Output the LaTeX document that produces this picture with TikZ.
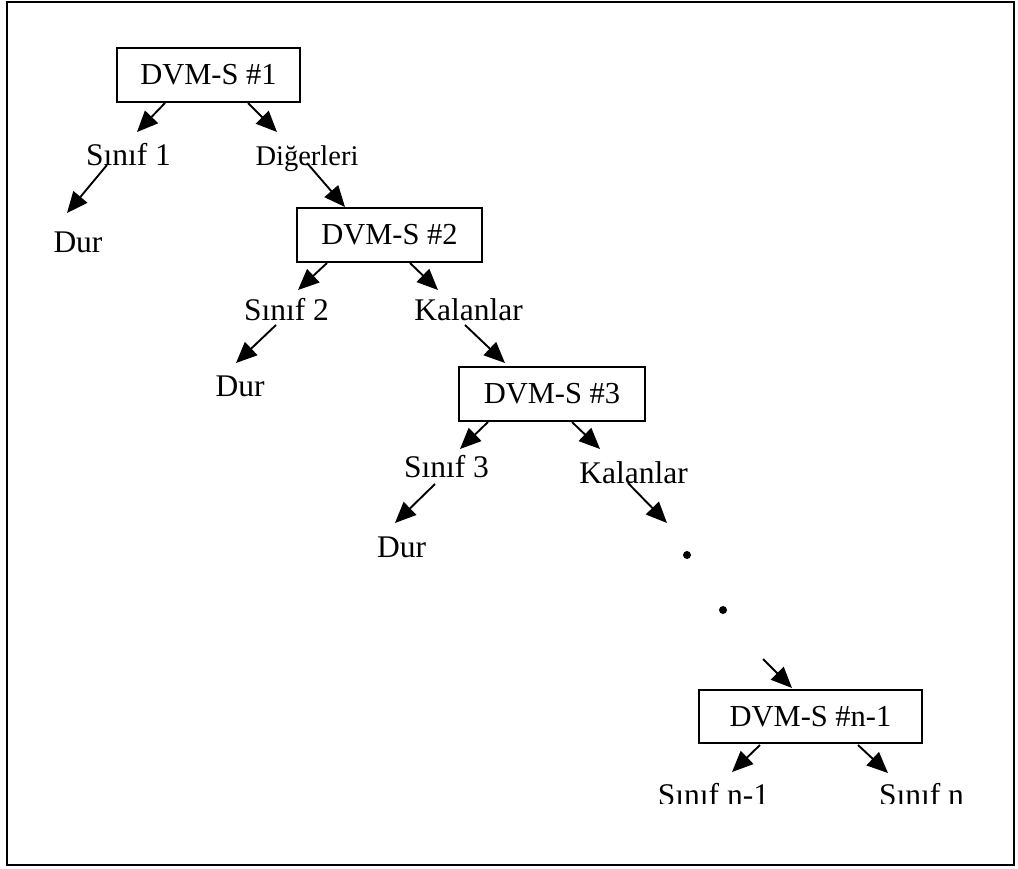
\documentclass[tikz,border=0pt]{standalone}
\usepackage{fontspec}
\setmainfont{Liberation Serif}
\usetikzlibrary{arrows.meta,calc}
\begin{document}
\begin{tikzpicture}[x=1pt,y=-1pt,
  svmbox/.style={draw,line width=1.8pt,inner sep=0pt,minimum height=54pt,
    font=\fontsize{30.5}{36}\selectfont},
  lbl/.style={inner sep=0pt,anchor=base,font=\fontsize{31.5}{37}\selectfont},
  lblsmall/.style={inner sep=0pt,anchor=base,font=\fontsize{28.5}{33}\selectfont},
  dotn/.style={circle,fill,inner sep=0pt,minimum size=8pt},
  arr/.style={line width=1.9pt,-{Triangle[length=21pt,width=18pt]}}]
\useasboundingbox (0,0) rectangle (1018,868);
% outer frame
\draw[line width=2.2pt] (7,2) rectangle (1014,865);

% SVM stages
\node[svmbox,minimum width=183pt] (b1) at (208.5,75)  {DVM-S \#1};
\node[svmbox,minimum width=185pt] (b2) at (389.5,235) {DVM-S \#2};
\node[svmbox,minimum width=186pt] (b3) at (552,394)   {DVM-S \#3};
\node[svmbox,minimum width=223pt,minimum height=53pt] (b4) at (810.5,716.5) {DVM-S \#n-1};

% outcomes
\node[lbl] (s1) at (128.5,165) {Sınıf 1};
\node[lblsmall] (dg) at (307,165) {Diğerleri};
\node[lbl] (d1) at (78,252) {Dur};
\node[lbl] (s2) at (286.5,320) {Sınıf 2};
\node[lbl] (k2) at (468.5,320) {Kalanlar};
\node[lbl] (d2) at (240,396) {Dur};
\node[lbl] (s3) at (446.5,477) {Sınıf 3};
\node[lbl] (k3) at (633.5,483) {Kalanlar};
\node[lbl] (d3) at (401.5,557) {Dur};
\begin{scope}
  \clip (600,770) rectangle (1000,803);
  \node[lbl] (sn1) at (713.5,805) {Sınıf n-1};
  \node[lbl] (sn)  at (921.5,805) {Sınıf n};
\end{scope}

% continuation dots
\node[dotn] (p1) at (687,555) {};
\node[dotn] (p2) at (723,610) {};

% connectors
\draw[arr] ($(b1)+(-43.5,28)$) -- ($(s1.base)+(8.5,-33)$);
\draw[arr] ($(b1)+(39.5,28)$) -- ($(dg.base)+(-30,-33)$);
\draw[arr] ($(s1.base)+(-21.5,0)$) -- ($(d1.base)+(-11,-39)$);
\draw[arr] ($(dg.base)+(0,-2)$) -- ($(b2)+(-44.5,-28)$);
\draw[arr] ($(b2)+(-62.5,28)$) -- ($(s2.base)+(11.5,-30)$);
\draw[arr] ($(b2)+(20.5,28)$) -- ($(k2.base)+(-30.5,-30)$);
\draw[arr] ($(s2.base)+(-10.5,5)$) -- ($(d2.base)+(-4,-33)$);
\draw[arr] ($(k2.base)+(-3.5,5)$) -- ($(b3)+(-47,-31)$);
\draw[arr] ($(b3)+(-64,28)$) -- ($(s3.base)+(13.5,-28)$);
\draw[arr] ($(b3)+(20,28)$) -- ($(k3.base)+(-33.5,-34)$);
\draw[arr] ($(s3.base)+(-11.5,7)$) -- ($(d3.base)+(-6.5,-34)$);
\draw[arr] ($(k3.base)+(-5.5,0)$) -- ($(p1)+(-20,-32)$);
\draw[arr] ($(p2)+(40,49)$) -- ($(b4)+(-18.5,-28.5)$);
\draw[arr] ($(b4)+(-50.5,28.5)$) -- ($(sn1.base)+(18.5,-33)$);
\draw[arr] ($(b4)+(47.5,28.5)$) -- ($(sn.base)+(-33.5,-32)$);
\end{tikzpicture}
\end{document}
